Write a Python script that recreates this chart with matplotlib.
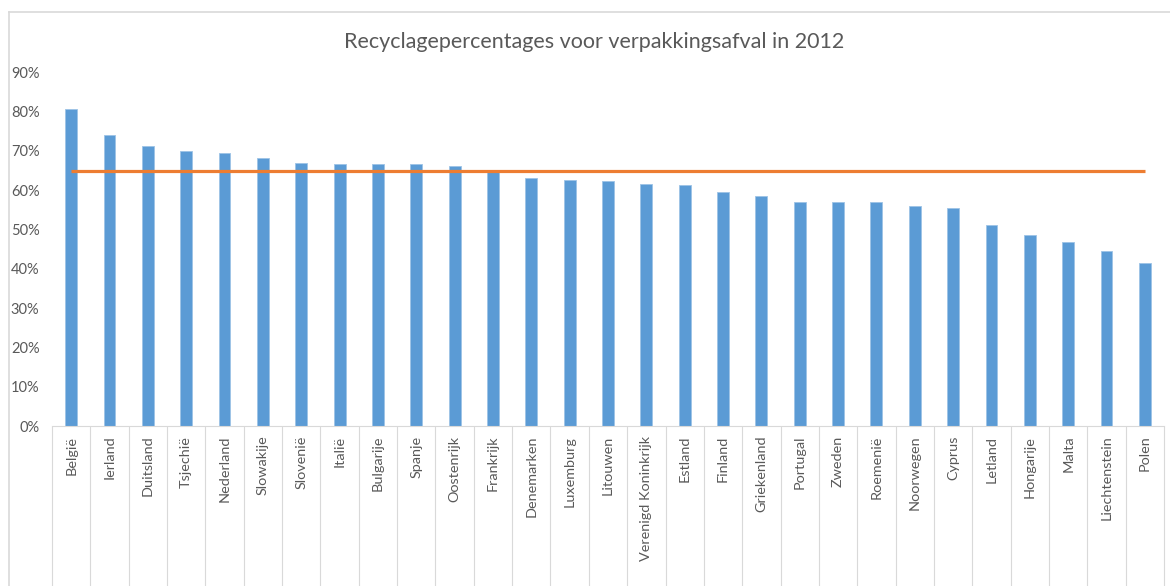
import numpy as np
import matplotlib
matplotlib.use("Agg")
import matplotlib.pyplot as plt
from matplotlib.ticker import FixedLocator, FuncFormatter

# --- data ---
landen = ["België", "Ierland", "Duitsland", "Tsjechië", "Nederland", "Slowakije",
          "Slovenië", "Italië", "Bulgarije", "Spanje", "Oostenrijk", "Frankrijk",
          "Denemarken", "Luxemburg", "Litouwen", "Verenigd Koninkrijk", "Estland",
          "Finland", "Griekenland", "Portugal", "Zweden", "Roemenië", "Noorwegen",
          "Cyprus", "Letland", "Hongarije", "Malta", "Liechtenstein", "Polen"]
percentages = [80.5, 74.1, 71.3, 70.0, 69.4, 68.1, 66.8, 66.7, 66.7, 66.7, 66.0, 64.6,
               63.0, 62.6, 62.2, 61.6, 61.3, 59.4, 58.6, 56.9, 56.9, 56.9, 56.0,
               55.4, 51.2, 48.6, 46.7, 44.4, 41.4]
gemiddelde = 64.8
y_ticks = [0, 10, 20, 30, 40, 50, 60, 70, 80, 90]

plt.rcParams['font.family'] = ['Lato', 'DejaVu Sans']
grijs = "#595959"
lijn = "#D9D9D9"

fig = plt.figure(figsize=(11.7, 5.86), dpi=100)
n = len(landen)
x = np.arange(n)

# plot area in pixels: left 52, right 1164, zero at y=426, 90% at y=72
ax = fig.add_axes([52 / 1170, (586 - 426) / 586, (1164 - 52) / 1170, (426 - 72) / 586])

ax.bar(x, percentages, width=0.31, color="#5B9BD5", edgecolor="#9DC3E6", linewidth=0.6, zorder=2)
ax.plot([x[0], x[-1]], [gemiddelde, gemiddelde], color="#ED7D31", linewidth=2.3,
        solid_capstyle="butt", zorder=3)

ax.set_xlim(-0.5, n - 0.5)
ax.set_ylim(0, 90)
ax.yaxis.set_major_locator(FixedLocator(y_ticks))
ax.yaxis.set_major_formatter(FuncFormatter(lambda v, p: "%d%%" % v))
ax.tick_params(axis="y", length=0, pad=9, labelsize=10.5, labelcolor=grijs)

# category separators as long major ticks, names as minor ticks
ax.xaxis.set_major_locator(FixedLocator(np.arange(n + 1) - 0.5))
ax.xaxis.set_major_formatter(FuncFormatter(lambda v, p: ""))
ax.xaxis.set_minor_locator(FixedLocator(x))
ax.set_xticklabels(landen, minor=True, rotation=90, va="top", ha="center")
ax.tick_params(axis="x", which="major", length=130, width=0.8, color=lijn, direction="out")
ax.tick_params(axis="x", which="minor", length=0, pad=7, labelsize=10.4, labelcolor=grijs)

for s in ["left", "top", "right"]:
    ax.spines[s].set_visible(False)
ax.spines["bottom"].set_color(lijn)
ax.spines["bottom"].set_linewidth(0.8)

fig.text(594 / 1170, 1 - 42 / 586, "Recyclagepercentages voor verpakkingsafval in 2012",
         ha="center", va="center", fontsize=15.5, color=grijs)

# chart border (top and left edge visible)
fig.add_artist(plt.Line2D([8.5 / 1170, 1], [1 - 12 / 586, 1 - 12 / 586], color=lijn, linewidth=1.2))
fig.add_artist(plt.Line2D([8.5 / 1170, 8.5 / 1170], [0, 1 - 12 / 586], color=lijn, linewidth=1.2))

plt.savefig("out.png", dpi=100)
